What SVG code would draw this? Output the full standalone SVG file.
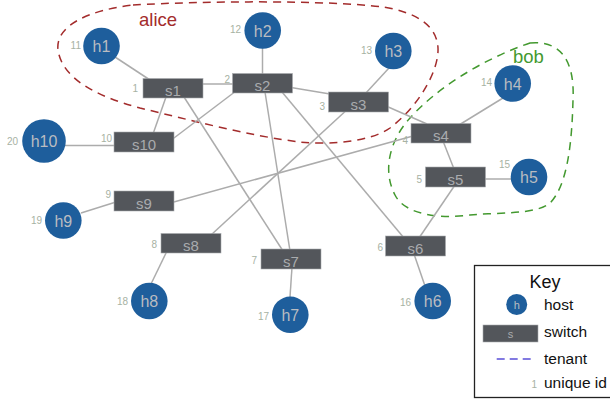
<svg xmlns="http://www.w3.org/2000/svg" width="610" height="400" viewBox="0 0 610 400">
  <style>
    .host circle { fill: #1e5e9c; }
    .host text { font-family: "Liberation Sans", Arial, sans-serif; font-size: 16px; fill: #b9bcc1; text-anchor: middle; }
    .switch rect { fill: #53565b; stroke: #a9abae; stroke-width: 0.6; }
    .switch text { font-family: "Liberation Sans", Arial, sans-serif; font-size: 15px; fill: #a9abae; text-anchor: middle; }
    g text.uid { font-family: "Liberation Sans", Arial, sans-serif; font-size: 10px; fill: #a7b2a3; text-anchor: end; }
    .edges line { stroke: #acacac; stroke-width: 1.5; }
    .tenant { fill: none; stroke-width: 1.5; stroke-dasharray: 8 6; }
    .tlabel { font-family: "Liberation Sans", Arial, sans-serif; font-size: 18.5px; }
    .key > text { font-family: "Liberation Sans", Arial, sans-serif; font-size: 15.5px; fill: #111; }
  </style>

  <!-- tenants -->
  <g id="tenants">
    <g id="alice">
      <path class="tenant" stroke="#a32c2c" d="M 133,5 C 200,1 330,0 383,7 C 415,12 437,25 438,48 C 439,70 420,105 390,128 C 370,142 330,145 300,142 C 250,136 190,120 140,108 C 95,96 62,78 58,50 C 55,25 90,10 133,5 Z"/>
      <text class="tlabel" x="139" y="26" fill="#a32c2c">alice</text>
    </g>
    <g id="bob">
      <path class="tenant" stroke="#43992f" d="M 530,43 C 560,40 575,60 573,100 C 572,140 568,185 550,203 C 535,215 500,212 470,215 C 440,219 405,215 395,195 C 382,170 390,140 410,118 C 435,90 480,60 530,43 Z"/>
      <text class="tlabel" x="513" y="63" fill="#43992f">bob</text>
    </g>
  </g>

  <!-- links -->
  <g id="connectors" class="edges">
    <line x1="115" y1="57" x2="150" y2="80"/>
    <line x1="262.5" y1="48" x2="262.5" y2="75"/>
    <line x1="389" y1="68" x2="365" y2="94"/>
    <line x1="503" y1="98" x2="459" y2="125"/>
    <line x1="485" y1="179" x2="511" y2="179"/>
    <line x1="414" y1="254" x2="425" y2="286"/>
    <line x1="292" y1="267" x2="290" y2="297"/>
    <line x1="167" y1="251" x2="151" y2="284"/>
    <line x1="81" y1="213" x2="116" y2="202"/>
    <line x1="64" y1="145.5" x2="116" y2="145.5"/>
    <line x1="201" y1="84" x2="234" y2="84"/>
    <line x1="166" y1="97" x2="153" y2="134"/>
    <line x1="234" y1="92.5" x2="172" y2="139.5"/>
    <line x1="184" y1="97" x2="283" y2="251"/>
    <line x1="265" y1="92" x2="290" y2="251"/>
    <line x1="282" y1="92" x2="404" y2="238"/>
    <line x1="291" y1="87.5" x2="330" y2="94"/>
    <line x1="386" y1="106" x2="427" y2="124"/>
    <line x1="346.7" y1="110" x2="211" y2="235"/>
    <line x1="413" y1="136" x2="172" y2="202.5"/>
    <line x1="443" y1="141" x2="454" y2="169"/>
    <line x1="455" y1="185" x2="419" y2="238"/>
  </g>

  <!-- switches -->
  <g id="s1" class="switch"><rect x="143" y="78.5" width="60" height="19.5"/><text x="173" y="95.5">s1</text><text class="uid" x="138" y="92">1</text></g>
  <g id="s2" class="switch"><rect x="232.5" y="73.5" width="60" height="19.5"/><text x="262.5" y="90.5">s2</text><text class="uid" x="230" y="83">2</text></g>
  <g id="s3" class="switch"><rect x="328.5" y="92" width="60" height="20"/><text x="358.5" y="109.5">s3</text><text class="uid" x="325" y="110">3</text></g>
  <g id="s4" class="switch"><rect x="411" y="123.5" width="60" height="19.5"/><text x="441" y="140.5">s4</text><text class="uid" x="408" y="144">4</text></g>
  <g id="s5" class="switch"><rect x="425.5" y="167" width="60" height="20"/><text x="455.5" y="184.5">s5</text><text class="uid" x="422" y="183">5</text></g>
  <g id="s6" class="switch"><rect x="385.5" y="236" width="60" height="20"/><text x="415.5" y="253.5">s6</text><text class="uid" x="383" y="251">6</text></g>
  <g id="s7" class="switch"><rect x="261" y="249" width="60" height="20"/><text x="291" y="266.5">s7</text><text class="uid" x="257" y="264">7</text></g>
  <g id="s8" class="switch"><rect x="161" y="233.5" width="60" height="19.5"/><text x="191" y="250.5">s8</text><text class="uid" x="157" y="248">8</text></g>
  <g id="s9" class="switch"><rect x="114" y="191" width="60" height="20"/><text x="144" y="208.5">s9</text><text class="uid" x="111" y="198">9</text></g>
  <g id="s10" class="switch"><rect x="114" y="132" width="60" height="20"/><text x="144" y="149.5">s10</text><text class="uid" x="112" y="142">10</text></g>

  <!-- hosts -->
  <g id="h1" class="host"><circle cx="101.5" cy="46" r="18.3"/><text x="101.5" y="52">h1</text><text class="uid" x="81" y="49">11</text></g>
  <g id="h2" class="host"><circle cx="262.7" cy="30.5" r="18.3"/><text x="262.7" y="36.5">h2</text><text class="uid" x="241" y="33">12</text></g>
  <g id="h3" class="host"><circle cx="393.3" cy="51" r="18.3"/><text x="393.3" y="57">h3</text><text class="uid" x="372" y="54">13</text></g>
  <g id="h4" class="host"><circle cx="512.7" cy="83.5" r="18.3"/><text x="512.7" y="89.5">h4</text><text class="uid" x="492" y="86">14</text></g>
  <g id="h5" class="host"><circle cx="529" cy="177" r="18.3"/><text x="529" y="183">h5</text><text class="uid" x="510" y="168">15</text></g>
  <g id="h6" class="host"><circle cx="432.7" cy="301" r="18.3"/><text x="432.7" y="307">h6</text><text class="uid" x="411" y="306">16</text></g>
  <g id="h7" class="host"><circle cx="290.3" cy="314.8" r="18.3"/><text x="290.3" y="320.8">h7</text><text class="uid" x="269" y="320">17</text></g>
  <g id="h8" class="host"><circle cx="149.3" cy="301" r="18.3"/><text x="149.3" y="307">h8</text><text class="uid" x="128" y="305">18</text></g>
  <g id="h9" class="host"><circle cx="63.3" cy="220.5" r="18.3"/><text x="63.3" y="226.5">h9</text><text class="uid" x="42" y="224">19</text></g>
  <g id="h10" class="host"><circle cx="44" cy="141" r="21.8"/><text x="44" y="147">h10</text><text class="uid" x="18" y="145">20</text></g>

  <!-- legend -->
  <g id="key" class="key">
    <rect x="474.5" y="265.5" width="140" height="132" fill="#fff" stroke="#222" stroke-width="1.3"/>
    <text x="545" y="288" style="font-size:18px" text-anchor="middle">Key</text>
    <g class="host"><circle cx="516.7" cy="304.5" r="10.5"/><text x="516.7" y="309" style="font-size:11px">h</text></g>
    <text x="544" y="310">host</text>
    <g class="switch"><rect x="483" y="325" width="55" height="17" stroke="none"/><text x="510.5" y="338" style="font-size:11px">s</text></g>
    <text x="544" y="337">switch</text>
    <line x1="496.7" y1="359" x2="533.5" y2="359" stroke="#5a4fd8" stroke-width="1.3" stroke-dasharray="8 5"/>
    <text x="544" y="364">tenant</text>
    <text class="uid" x="537" y="388">1</text>
    <text x="544" y="388">unique id</text>
  </g>
</svg>
